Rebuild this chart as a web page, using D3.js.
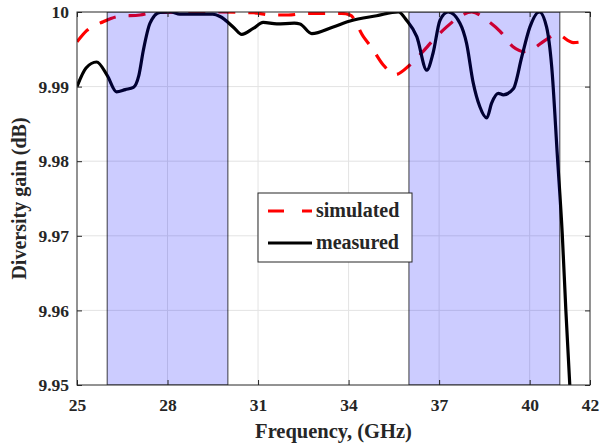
<!DOCTYPE html>
<html><head><meta charset="utf-8">
<script src="https://cdn.jsdelivr.net/npm/d3@7/dist/d3.min.js"></script>
<style>body{margin:0;background:#fff}svg{display:block}text{font-family:"Liberation Serif","Times New Roman",serif;font-weight:bold}</style>
</head><body><div id="chart"></div>
<script>
const xTicks = [25, 28, 31, 34, 37, 40, 42];
const yTicks = [9.95, 9.96, 9.97, 9.98, 9.99, 10];
const bands = [[26, 30], [36, 41]];
const measuredFreq = [25, 25.3, 25.65, 26.0, 26.31, 26.6, 26.87, 27.05, 27.2, 27.42, 27.75, 28.1, 28.41, 29.0, 29.5, 29.74, 30.2, 30.46, 30.84, 31.17, 31.62, 32.2, 32.39, 32.78, 33.49, 34.05, 34.93, 35.65, 35.92, 36.26, 36.59, 36.8, 37.03, 37.3, 37.69, 37.91, 38.13, 38.35, 38.58, 38.74, 38.96, 39.13, 39.46, 39.74, 40.01, 40.32, 40.56, 40.73, 40.92, 41.08, 41.2, 41.33, 41.4];
const measuredVal = [9.990, 9.9925, 9.9933, 9.9915, 9.9893, 9.9896, 9.9899, 9.9915, 9.9949, 9.9985, 9.99995, 10.0, 9.9997, 9.9997, 9.9997, 9.9994, 9.9979, 9.9970, 9.9978, 9.9986, 9.9984, 9.9985, 9.9984, 9.9971, 9.9980, 9.9988, 9.9995, 10.0, 9.9989, 9.9967, 9.9922, 9.9945, 9.9989, 10.0, 9.9985, 9.9958, 9.9905, 9.9873, 9.9858, 9.9878, 9.9891, 9.9889, 9.9897, 9.9940, 9.9980, 10.0, 9.9980, 9.9927, 9.9806, 9.9703, 9.9600, 9.9500, 9.9450];
const simFreq = [25, 25.32, 25.87, 26.37, 27.09, 27.53, 28.5, 29.5, 30.4, 30.84, 31.5, 32.0, 32.6, 33.05, 33.77, 34.05, 34.49, 34.77, 35.15, 35.54, 36.03, 36.42, 36.8, 37.25, 37.69, 38.08, 38.58, 39.02, 39.46, 39.79, 40.12, 40.51, 40.9, 41.45, 41.95, 42];
const simVal = [9.9960, 9.9975, 9.9987, 9.9994, 9.9996, 9.9999, 10.0, 10.0, 9.99995, 9.9999, 9.9996, 9.9996, 9.9998, 9.9998, 9.9998, 9.9996, 9.9967, 9.9952, 9.9929, 9.9916, 9.9929, 9.9945, 9.9962, 9.9980, 9.9994, 10.0, 9.9989, 9.9974, 9.9953, 9.9947, 9.9951, 9.9962, 9.9970, 9.9959, 9.9963, 9.9965];
const seriesNames = ["simulated", "measured"];

const W = 605, H = 445;
const m = {left: 77, top: 12, right: 15, bottom: 60};
const svg = d3.select("#chart").append("svg").attr("width", W).attr("height", H);
const x = d3.scaleLinear().domain([25, 42]).range([m.left, W - m.right]);
const y = d3.scaleLinear().domain([9.95, 10]).range([H - m.bottom, m.top]);

svg.append("defs").append("clipPath").attr("id", "clip")
  .append("rect").attr("x", m.left).attr("y", m.top)
  .attr("width", W - m.left - m.right).attr("height", H - m.top - m.bottom);

// grid
const g = svg.append("g");
g.selectAll(".gx").data(xTicks.slice(1, -1)).join("line")
  .attr("x1", d => x(d)).attr("x2", d => x(d)).attr("y1", m.top).attr("y2", H - m.bottom)
  .attr("stroke", "#e3e3e3").attr("stroke-width", 1);
g.selectAll(".gy").data(yTicks.slice(1, -1)).join("line")
  .attr("y1", d => y(d)).attr("y2", d => y(d)).attr("x1", m.left).attr("x2", W - m.right)
  .attr("stroke", "#e3e3e3").attr("stroke-width", 1);

const plot = svg.append("g").attr("clip-path", "url(#clip)");
const line = d3.line().curve(d3.curveMonotoneX).x(d => d[0]).y(d => d[1]);
const simPts = simFreq.map((f, i) => [x(f), y(simVal[i])]);
const meaPts = measuredFreq.map((f, i) => [x(f), y(measuredVal[i])]);
plot.append("path").attr("d", line(simPts)).attr("fill", "none")
  .attr("stroke", "#ff0000").attr("stroke-width", 3.2).attr("stroke-dasharray", "17,13");
plot.append("path").attr("d", line(meaPts)).attr("fill", "none")
  .attr("stroke", "#000").attr("stroke-width", 3.2).attr("stroke-linejoin", "round");

// shaded bands on top
plot.selectAll(".band").data(bands).join("rect")
  .attr("x", d => x(d[0])).attr("width", d => x(d[1]) - x(d[0]))
  .attr("y", m.top).attr("height", H - m.top - m.bottom)
  .attr("fill", "rgb(0,0,255)").attr("fill-opacity", 0.2)
  .attr("stroke", "#000").attr("stroke-opacity", 0.75).attr("stroke-width", 1);

// frame
svg.append("rect").attr("x", m.left).attr("y", m.top)
  .attr("width", W - m.left - m.right).attr("height", H - m.top - m.bottom)
  .attr("fill", "none").attr("stroke", "#262626").attr("stroke-width", 1);

// axes
const xAxis = d3.axisBottom(x).tickValues(xTicks).tickFormat(d3.format("d")).tickSizeInner(-5).tickSizeOuter(0).tickPadding(14);
const yAxis = d3.axisLeft(y).tickValues(yTicks).tickFormat(d => d === 10 ? "10" : d3.format(".2f")(d)).tickSizeInner(-5).tickSizeOuter(0).tickPadding(8);
const xa = svg.append("g").attr("transform", `translate(0,${H - m.bottom})`).call(xAxis);
const ya = svg.append("g").attr("transform", `translate(${m.left},0)`).call(yAxis);
[xa, ya].forEach(a => {
  a.select(".domain").remove();
  a.selectAll("line").attr("stroke", "#262626");
  a.selectAll("text").attr("fill", "#262626").style("font-size", "17.5px");
});
// top and right ticks
svg.append("g").attr("transform", `translate(0,${m.top})`).call(d3.axisTop(x).tickValues(xTicks).tickSizeInner(-5).tickSizeOuter(0).tickFormat(""))
  .call(a => { a.select(".domain").remove(); a.selectAll("line").attr("stroke", "#262626"); });
svg.append("g").attr("transform", `translate(${W - m.right},0)`).call(d3.axisRight(y).tickValues(yTicks).tickSizeInner(-5).tickSizeOuter(0).tickFormat(""))
  .call(a => { a.select(".domain").remove(); a.selectAll("line").attr("stroke", "#262626"); });

// labels
svg.append("text").attr("x", (m.left + W - m.right) / 2).attr("y", 438).attr("text-anchor", "middle")
  .style("font-size", "20.5px").attr("fill", "#262626").text("Frequency, (GHz)");
svg.append("text").attr("transform", `translate(26,${(m.top + H - m.bottom) / 2}) rotate(-90)`)
  .attr("text-anchor", "middle").style("font-size", "20px").attr("fill", "#262626").text("Diversity gain (dB)");

// legend
const lg = svg.append("g");
lg.append("rect").attr("x", 258).attr("y", 193).attr("width", 154).attr("height", 69)
  .attr("fill", "#fff").attr("stroke", "#262626").attr("stroke-width", 1);
const items = [{name: seriesNames[0], color: "#ff0000", dash: "16,18", yy: 211}, {name: seriesNames[1], color: "#000", dash: null, yy: 243}];
items.forEach(it => {
  lg.append("line").attr("x1", 268).attr("x2", 312).attr("y1", it.yy).attr("y2", it.yy)
    .attr("stroke", it.color).attr("stroke-width", 3.2).attr("stroke-dasharray", it.dash);
  lg.append("text").attr("x", 316).attr("y", it.yy + 6).style("font-size", "20px").attr("fill", "#262626").text(it.name);
});
</script></body></html>
